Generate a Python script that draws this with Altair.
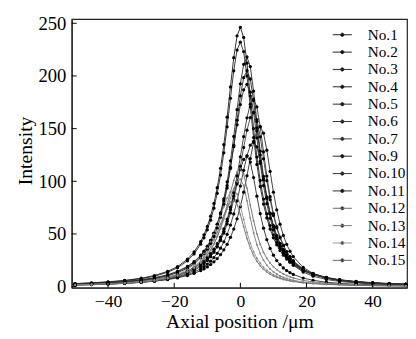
import altair as alt
import pandas as pd

x_um = [-50, -45, -40, -35, -30, -26, -22, -19, -16, -14, -12, -10, -8, -6, -4, -2, 0,
        2, 4, 6, 8, 10, 12, 14, 16, 19, 22, 26, 30, 35, 40, 45, 50]
x_odd = [-11, -9, -7, -5, -3, -1, 1, 3, 5, 7, 9, 11, 13, 15]

names = ["No.1", "No.2", "No.3", "No.4", "No.5", "No.6", "No.7",
         "No.9", "No.10", "No.11", "No.12", "No.13", "No.14", "No.15"]

no1 = [2.9, 3.6, 4.6, 5.9, 8.0, 10.5, 14.5, 19.0, 26.0, 32.9, 42.7, 57.1, 79.0, 112.3, 160.9, 217.3, 246,
       212.1, 150.0, 100.8, 69.1, 49.2, 36.4, 27.8, 21.9, 15.9, 12.1, 8.8, 6.6, 4.9, 3.8, 3.0, 2.4]
no2 = [2.8, 3.4, 4.3, 5.6, 7.5, 9.9, 13.6, 17.9, 24.5, 31.0, 40.3, 53.9, 74.5, 105.9, 151.7, 204.9, 232,
       200.0, 141.5, 95.1, 65.2, 46.4, 34.3, 26.2, 20.6, 15.0, 11.4, 8.3, 6.3, 4.6, 3.6, 2.8, 2.3]
no3 = [2.4, 2.9, 3.7, 4.7, 6.3, 8.1, 10.9, 14.0, 18.6, 23.0, 29.1, 37.8, 50.6, 70.0, 99.5, 142.6, 192.5,
       218, 185.7, 128.6, 85.1, 57.7, 40.8, 30.1, 22.9, 16.1, 11.9, 8.4, 6.2, 4.5, 3.4, 2.7, 2.2]
no4 = [2.3, 2.8, 3.5, 4.4, 5.9, 7.6, 10.2, 13.2, 17.5, 21.7, 27.4, 35.6, 47.6, 65.8, 93.6, 134.1, 181.0,
       205, 176.7, 125.0, 84.0, 57.6, 41.0, 30.3, 23.2, 16.3, 12.1, 8.5, 6.3, 4.6, 3.5, 2.7, 2.2]
no5 = [2.5, 3.1, 3.8, 4.9, 6.5, 8.4, 11.3, 14.5, 19.2, 23.7, 29.8, 38.4, 50.8, 69.1, 96.0, 132.9, 172.8,
       192, 165.5, 117.1, 78.7, 53.9, 38.4, 28.4, 21.7, 15.3, 11.3, 8.0, 5.9, 4.3, 3.3, 2.6, 2.1]
no6 = [2.2, 2.6, 3.3, 4.1, 5.4, 6.8, 9.0, 11.3, 14.7, 17.8, 21.9, 27.6, 35.6, 47.1, 64.1, 89.0, 123.2,
       160.2, 178, 151.7, 105.0, 69.4, 47.1, 33.3, 24.5, 16.5, 11.8, 8.1, 5.9, 4.2, 3.1, 2.4, 1.9]
no7 = [2.0, 2.4, 3.0, 3.8, 5.0, 6.3, 8.3, 10.5, 13.6, 16.5, 20.3, 25.6, 33.0, 43.7, 59.4, 82.5, 114.2,
       148.5, 165, 142.2, 100.6, 67.6, 46.3, 33.0, 24.4, 16.5, 11.8, 8.1, 5.9, 4.2, 3.1, 2.4, 1.9]
no9 = [1.7, 2.1, 2.5, 3.2, 4.1, 5.2, 6.7, 8.3, 10.5, 12.6, 15.2, 18.7, 23.6, 30.4, 40.2, 54.7, 76.0,
       105.2, 136.8, 152, 129.5, 89.7, 59.3, 40.2, 28.5, 18.2, 12.6, 8.3, 5.9, 4.1, 3.0, 2.3, 1.8]
no10 = [1.7, 2.0, 2.5, 3.2, 4.2, 5.3, 7.0, 8.8, 11.4, 13.8, 17.0, 21.4, 27.6, 36.5, 49.7, 69.0, 95.5,
        124.2, 138, 119.0, 84.2, 56.6, 38.8, 27.6, 20.4, 13.8, 9.9, 6.8, 4.9, 3.5, 2.6, 2.0, 1.6]
no11 = [1.6, 2.0, 2.5, 3.2, 4.2, 5.4, 7.3, 9.4, 12.4, 15.3, 19.2, 24.8, 32.8, 44.6, 62.0, 85.8, 111.6,
        124, 103.5, 69.3, 44.6, 29.8, 20.9, 15.3, 11.6, 8.1, 6.0, 4.2, 3.1, 2.3, 1.7, 1.3, 1.1]
no12 = [1.6, 2.0, 2.5, 3.2, 4.3, 5.7, 7.8, 10.2, 13.8, 17.4, 22.4, 29.6, 40.3, 56.0, 77.5, 100.8, 112,
        93.5, 62.6, 40.3, 26.9, 18.9, 13.8, 10.5, 8.2, 5.9, 4.5, 3.3, 2.5, 1.8, 1.4, 1.1, 0.9]
no13 = [1.7, 2.1, 2.6, 3.4, 4.6, 6.0, 8.2, 10.7, 14.4, 18.1, 23.1, 30.3, 40.6, 55.1, 74.0, 93.2, 102,
        81.6, 51.0, 31.4, 20.4, 14.1, 10.2, 7.7, 6.0, 4.3, 3.3, 2.4, 1.8, 1.3, 1.0, 0.8, 0.7]
no14 = [1.7, 2.1, 2.6, 3.4, 4.7, 6.3, 8.8, 11.7, 16.3, 20.9, 27.3, 36.6, 49.7, 66.7, 84.0, 92, 76.8,
        51.4, 33.1, 22.1, 15.5, 11.3, 8.6, 6.7, 5.4, 4.0, 3.1, 2.3, 1.8, 1.3, 1.0, 0.8, 0.7]
no15 = [1.5, 1.8, 2.3, 3.1, 4.2, 5.6, 7.8, 10.5, 14.5, 18.6, 24.4, 32.6, 44.3, 59.5, 74.9, 82, 68.5,
        45.8, 29.5, 19.7, 13.8, 10.1, 7.7, 6.0, 4.8, 3.6, 2.8, 2.1, 1.6, 1.2, 0.9, 0.7, 0.6]

# readings at the odd positions of the central part (x_odd)
no1_odd = [49.2, 66.9, 93.9, 134.7, 189.6, 238.1, 236.5, 180.9, 123.0, 83.1, 58.0, 42.1, 31.7, 24.6]
no2_odd = [46.4, 63.1, 88.6, 127.0, 178.8, 224.6, 223.1, 170.6, 116.0, 78.4, 54.7, 39.7, 29.9, 23.2]
no3_odd = [33.1, 43.6, 59.3, 83.2, 119.4, 168.0, 211.0, 208.9, 156.8, 104.6, 69.7, 48.3, 34.9, 26.2]
no4_odd = [31.1, 41.0, 55.7, 78.2, 112.2, 158.0, 198.4, 197.1, 150.7, 102.5, 69.2, 48.3, 35.1, 26.4]
no5_odd = [33.7, 44.0, 59.1, 81.3, 113.3, 153.6, 186.8, 184.6, 141.2, 96.0, 64.9, 45.3, 32.9, 24.7]
no6_odd = [24.5, 31.3, 40.8, 54.8, 75.4, 105.1, 142.4, 173.2, 170.6, 128.0, 85.4, 56.9, 39.4, 28.5]
no7_odd = [22.8, 29.0, 37.8, 50.8, 69.9, 97.4, 132.0, 160.5, 158.6, 121.3, 82.5, 55.7, 38.9, 28.2]
no9_odd = [16.8, 21.0, 26.7, 34.9, 46.8, 64.4, 89.7, 121.6, 147.9, 145.7, 109.3, 72.9, 48.6, 33.7]
no10_odd = [19.0, 24.2, 31.6, 42.5, 58.4, 81.4, 110.4, 134.3, 132.7, 101.5, 69.0, 46.6, 32.5, 23.6]
no11_odd = [21.8, 28.4, 38.2, 52.5, 73.2, 99.2, 120.7, 118.2, 85.8, 55.5, 36.3, 24.8, 17.8, 13.3]
no12_odd = [25.7, 34.5, 47.4, 66.1, 89.6, 109.0, 106.7, 77.5, 50.1, 32.7, 22.4, 16.1, 12.0, 9.3]
no13_odd = [26.4, 35.0, 47.2, 64.1, 84.1, 99.6, 96.0, 65.3, 39.8, 25.1, 16.8, 11.9, 8.8, 6.8]
no14_odd = [31.5, 42.6, 57.8, 75.8, 89.9, 87.7, 63.7, 41.2, 26.9, 18.4, 13.2, 9.8, 7.6, 6.0]
no15_odd = [28.1, 38.0, 51.5, 67.6, 80.1, 78.1, 56.8, 36.7, 24.0, 16.4, 11.8, 8.8, 6.8, 5.4]

series = [no1, no2, no3, no4, no5, no6, no7, no9, no10, no11, no12, no13, no14, no15]
series_odd = [no1_odd, no2_odd, no3_odd, no4_odd, no5_odd, no6_odd, no7_odd, no9_odd,
              no10_odd, no11_odd, no12_odd, no13_odd, no14_odd, no15_odd]

x_ticks = [-40, -20, 0, 20, 40]
y_ticks = [0, 50, 100, 150, 200, 250]

line_colors = ["#1a1a1a", "#222222", "#2a2a2a", "#222222", "#2a2a2a", "#333333", "#444444",
               "#2a2a2a", "#333333", "#2a2a2a", "#666666", "#777777", "#999999", "#666666"]

rows = []
for name, vals, vals_odd in zip(names, series, series_odd):
    for xv, yv in zip(x_um, vals):
        rows.append({"x": xv, "y": yv, "s": name})
    for xv, yv in zip(x_odd, vals_odd):
        rows.append({"x": xv, "y": yv, "s": name})
df = pd.DataFrame(rows)

FONT = "Liberation Serif, Times New Roman, DejaVu Serif, serif"
W, H = 342, 274

xscale = alt.Scale(domain=[-51, 50.4], nice=False, zero=False)
yscale = alt.Scale(domain=[-1, 254], nice=False, zero=False)

x_enc = alt.X("x:Q", scale=xscale,
              axis=alt.Axis(values=x_ticks, title="Axial position /μm", ticks=False, grid=False,
                            labelPadding=5, labelFontSize=18, format="d",
                            titleBaseline="alphabetic", titleY=41))
y_enc = alt.Y("y:Q", scale=yscale,
              axis=alt.Axis(values=y_ticks, title="Intensity", ticks=False, grid=False,
                            labelPadding=6, titleBaseline="alphabetic", titleAngle=270,
                            titleAlign="center", titleX=-41, titleY=134))

legend_path = ("M-1.3,0H1.3M-0.22,0a0.22,0.22 0 1,0 0.44,0"
               "a0.22,0.22 0 1,0 -0.44,0")

base = alt.Chart(df)

lines = base.mark_line(strokeWidth=0.9).encode(
    x=x_enc, y=y_enc,
    color=alt.Color("s:N", sort=names,
                    scale=alt.Scale(domain=names, range=line_colors),
                    legend=alt.Legend(title=None, orient="none", legendX=268, legendY=8,
                                      symbolType=legend_path, symbolSize=225,
                                      symbolStrokeWidth=1, symbolFillColor="#000",
                                      labelFont=FONT, labelFontSize=15.5, labelColor="#000",
                                      labelOffset=18, rowPadding=0.7, padding=0)),
)

dark_pts = base.transform_filter(
    alt.FieldOneOfPredicate(field="s", oneOf=names[:10])
).mark_point(filled=True, size=11, opacity=1, color="#000").encode(x="x:Q", y="y:Q")

light_pts = base.transform_filter(
    alt.FieldOneOfPredicate(field="s", oneOf=names[10:])
).mark_point(filled=True, size=4, opacity=1, color="#888").encode(x="x:Q", y="y:Q")

xt = alt.Chart(pd.DataFrame({"x": x_ticks})).mark_rule(color="#000", strokeWidth=1).encode(
    x="x:Q", y=alt.value(H), y2=alt.value(H - 5))
yt = alt.Chart(pd.DataFrame({"y": y_ticks})).mark_rule(color="#000", strokeWidth=1).encode(
    y="y:Q", x=alt.value(0), x2=alt.value(5))

chart = alt.layer(lines, dark_pts, light_pts, xt, yt).properties(
    width=W, height=H,
    autosize=alt.AutoSizeParams(type="none"),
    padding={"left": 65, "top": 8, "right": 1, "bottom": 46},
    background="white",
).configure_view(
    stroke="#222", strokeWidth=1.2
).configure_axis(
    labelFont=FONT, labelFontSize=19, labelColor="#000",
    titleFont=FONT, titleFontSize=20, titleColor="#000", titleFontWeight="normal",
    domainColor="#222", domainWidth=1.2,
)

chart.save("out.html", embed_options={"renderer": "svg", "actions": False})
